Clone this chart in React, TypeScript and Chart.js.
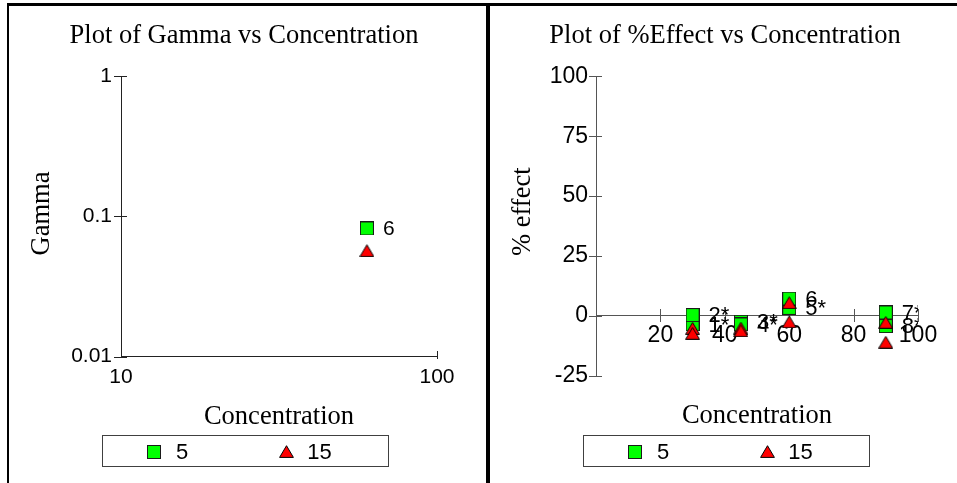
import React, { useEffect, useRef } from 'react';
import { Chart, registerables } from 'chart.js';

Chart.register(...registerables);

// ---------- data ----------
const SERIES_LABELS = ['5', '15'];

// Plot of Gamma vs Concentration
const GAMMA_CONC_5 = [60];
const GAMMA_VAL_5 = [0.082];
const GAMMA_ID_5 = ['6'];
const GAMMA_CONC_15 = [60];
const GAMMA_VAL_15 = [0.057];
const GAMMA_X_TICKS = [10, 100];
const GAMMA_Y_TICKS = [0.01, 0.1, 1];

// Plot of %Effect vs Concentration
const EFFECT_CONC_5 = [30, 30, 45, 45, 60, 60, 90, 90];
const EFFECT_VAL_5 = [-3.6, 0.3, -2.5, -3.6, 3.3, 7.2, 1.4, -4.3];
const EFFECT_ID_5 = ['1*', '2*', '3*', '4*', '5*', '6', '7*', '8*'];
const EFFECT_CONC_15 = [30, 30, 45, 45, 60, 60, 90, 90];
const EFFECT_VAL_15 = [-5.2, -7.3, -5.1, -6.2, 5.5, -2.5, -2.7, -11];
const EFFECT_X_TICKS = [20, 40, 60, 80, 100];
const EFFECT_Y_TICKS = [-25, 0, 25, 50, 75, 100];

// ---------- styling ----------
const SERIF = '"Liberation Serif", "Times New Roman", serif';
const SANS = '"Liberation Sans", Arial, sans-serif';
const TITLE_SIZE = 26.5;

function makeSquare(): HTMLCanvasElement {
  const c = document.createElement('canvas');
  c.width = 14; c.height = 14;
  const g = c.getContext('2d')!;
  g.fillStyle = '#00ff00';
  g.fillRect(0, 0, 14, 14);
  g.strokeStyle = '#1a1a1a';
  g.lineWidth = 1;
  g.strokeRect(0.5, 0.5, 13, 13);
  return c;
}

function makeTriangle(): HTMLCanvasElement {
  const c = document.createElement('canvas');
  c.width = 15; c.height = 13;
  const g = c.getContext('2d')!;
  g.beginPath();
  g.moveTo(7.5, 0.7);
  g.lineTo(14.4, 12.4);
  g.lineTo(0.6, 12.4);
  g.closePath();
  g.fillStyle = '#ff0000';
  g.fill();
  g.strokeStyle = '#000';
  g.lineWidth = 1;
  g.stroke();
  return c;
}

const toPoints = (xs: number[], ys: number[]) => xs.map((x, i) => ({ x, y: ys[i] }));

// crossing tick marks on both axes
const crossTickPlugin = {
  id: 'crossTicks',
  beforeDatasetsDraw(chart: any, _a: any, opts: any) {
    const { ctx, chartArea: ca } = chart;
    const xs = chart.scales.x;
    const ys = chart.scales.y;
    ctx.save();
    ctx.strokeStyle = opts.color;
    ctx.lineWidth = 1;
    const xAxisY = typeof xs.options.position === 'object' ? ys.getPixelForValue(0) : ca.bottom;
    const yAxisX = ca.left;
    const line = (x1: number, y1: number, x2: number, y2: number) => {
      ctx.beginPath(); ctx.moveTo(x1, y1); ctx.lineTo(x2, y2); ctx.stroke();
    };
    xs.ticks.forEach((t: any) => {
      const px = xs.getPixelForValue(t.value);
      if (Math.abs(px - ca.left) < 1) return;
      const X = Math.round(px) + 0.5;
      line(X, Math.round(xAxisY) - opts.xUp, X, Math.round(xAxisY) + opts.xDown);
    });
    ys.ticks.forEach((t: any) => {
      const py = ys.getPixelForValue(t.value);
      const Y = Math.round(py) + 0.5;
      line(Math.round(yAxisX) - opts.yOut, Y, Math.round(yAxisX) + opts.yIn, Y);
    });
    ctx.restore();
  },
};

// rotated y-axis title placed at a fixed height in the panel
const yTitlePlugin = {
  id: 'yTitle',
  afterDraw(chart: any, _a: any, opts: any) {
    const { ctx } = chart;
    ctx.save();
    ctx.translate(opts.x, opts.y);
    ctx.rotate(-Math.PI / 2);
    ctx.font = `${TITLE_SIZE}px ${SERIF}`;
    ctx.fillStyle = '#000';
    ctx.textAlign = 'center';
    ctx.textBaseline = 'middle';
    ctx.fillText(opts.text, 0, 0);
    ctx.restore();
  },
};

// sample id labels next to points, clipped to plot area
const pointLabelPlugin = {
  id: 'idLabels',
  afterDatasetsDraw(chart: any, _a: any, opts: any) {
    const { ctx, chartArea: ca } = chart;
    ctx.save();
    ctx.beginPath();
    ctx.rect(ca.left, ca.top, ca.right - ca.left, ca.bottom - ca.top);
    ctx.clip();
    ctx.font = `${opts.size}px ${SANS}`;
    ctx.fillStyle = '#000';
    ctx.textAlign = 'left';
    ctx.textBaseline = 'middle';
    chart.data.datasets.forEach((ds: any, di: number) => {
      if (!ds.idLabels) return;
      const meta = chart.getDatasetMeta(di);
      meta.data.forEach((pt: any, i: number) => {
        const txt = ds.idLabels[i];
        if (!txt) return;
        ctx.fillText(txt, pt.x + 16, pt.y + 1);
      });
    });
    ctx.restore();
  },
};

// boxed legend below the chart
const boxLegendPlugin = {
  id: 'boxLegend',
  afterDraw(chart: any, _a: any, opts: any) {
    const { ctx } = chart;
    const { x, y, w, h, symX, txtX } = opts;
    ctx.save();
    ctx.strokeStyle = '#404040';
    ctx.lineWidth = 1;
    ctx.strokeRect(Math.round(x) + 0.5, Math.round(y) + 0.5, w, h);
    ctx.font = `22px ${SANS}`;
    ctx.fillStyle = '#000';
    ctx.textAlign = 'left';
    ctx.textBaseline = 'middle';
    const cy = y + h / 2 + 1;
    chart.data.datasets.forEach((ds: any, i: number) => {
      const img = ds.pointStyle as HTMLCanvasElement;
      ctx.drawImage(img, Math.round(x + symX[i] - img.width / 2), Math.round(cy - img.height / 2));
      ctx.fillText(ds.label, x + txtX[i], cy + 1);
    });
    ctx.restore();
  },
};

const titleFont = { family: SERIF, size: TITLE_SIZE, weight: 'normal' as const };

function baseDatasets(sq: HTMLCanvasElement, tri: HTMLCanvasElement, d5: any[], d15: any[], ids: string[]) {
  return [
    {
      label: SERIES_LABELS[0],
      data: d5,
      idLabels: ids,
      pointStyle: sq,
      pointRadius: 7,
      order: 1,
      xAxisID: 'x',
      yAxisID: 'y',
    },
    {
      label: SERIES_LABELS[1],
      data: d15,
      pointStyle: tri,
      pointRadius: 7,
      order: 0,
      xAxisID: 'x',
      yAxisID: 'y',
    },
  ];
}

const legendOpts = { x: 92.5, y: 429, w: 286, h: 31, symX: [52.8, 184.6], txtX: [74.5, 205.8] };

function leftConfig(sq: HTMLCanvasElement, tri: HTMLCanvasElement): any {
  const tickFont = { family: SANS, size: 21 };
  return {
    type: 'scatter',
    data: {
      datasets: baseDatasets(sq, tri, toPoints(GAMMA_CONC_5, GAMMA_VAL_5), toPoints(GAMMA_CONC_15, GAMMA_VAL_15), GAMMA_ID_5),
    },
    options: {
      responsive: false,
      animation: false,
      devicePixelRatio: 1,
      layout: { padding: { left: 5, right: 12, top: 0, bottom: 40 } },
      plugins: {
        legend: { display: false },
        tooltip: { enabled: false },
        title: {
          display: true,
          text: 'Plot of Gamma vs Concentration',
          font: titleFont,
          color: '#000',
          padding: { top: 14.2, bottom: 24.0 },
        },
        crossTicks: { color: '#222', xUp: 6, xDown: 2, yOut: 7, yIn: 6 },
        yTitle: { text: 'Gamma', x: 33, y: 207.5 },
        idLabels: { size: 21 },
        boxLegend: legendOpts,
      },
      scales: {
        x: {
          type: 'logarithmic',
          position: 'bottom',
          min: 10,
          max: 100,
          afterBuildTicks: (s: any) => { s.ticks = GAMMA_X_TICKS.map((v) => ({ value: v })); },
          ticks: { callback: (v: any) => String(v), font: tickFont, color: '#000', padding: 8, maxRotation: 0, autoSkip: false },
          grid: { display: false, drawTicks: false },
          border: { display: true, color: '#222', width: 1 },
          title: { display: true, text: 'Concentration', font: titleFont, color: '#000', padding: { top: 0, bottom: 10 } },
          afterFit: (s: any) => { s.height = 86.3; },
        },
        y: {
          type: 'logarithmic',
          position: 'left',
          min: 0.01,
          max: 1,
          afterBuildTicks: (s: any) => { s.ticks = GAMMA_Y_TICKS.map((v) => ({ value: v })); },
          ticks: { callback: (v: any) => String(v), font: tickFont, color: '#000', padding: 9, autoSkip: false },
          grid: { display: false, drawTicks: false },
          border: { display: true, color: '#222', width: 1 },
          afterFit: (s: any) => { s.width = 107; },
        },
        yR: {
          type: 'linear',
          position: 'right',
          display: true,
          ticks: { display: false },
          grid: { display: false, drawTicks: false },
          border: { display: false },
          afterFit: (s: any) => { s.width = 37; },
        },
      },
    },
    plugins: [crossTickPlugin, pointLabelPlugin, yTitlePlugin, boxLegendPlugin],
  };
}

function rightConfig(sq: HTMLCanvasElement, tri: HTMLCanvasElement): any {
  const tickFont = { family: SANS, size: 23 };
  return {
    type: 'scatter',
    data: {
      datasets: baseDatasets(sq, tri, toPoints(EFFECT_CONC_5, EFFECT_VAL_5), toPoints(EFFECT_CONC_15, EFFECT_VAL_15), EFFECT_ID_5),
    },
    options: {
      responsive: false,
      animation: false,
      devicePixelRatio: 1,
      layout: { padding: { left: 6, right: 3, top: 0, bottom: 40 } },
      plugins: {
        legend: { display: false },
        tooltip: { enabled: false },
        title: {
          display: true,
          text: 'Plot of %Effect vs Concentration',
          font: titleFont,
          color: '#000',
          padding: { top: 14.2, bottom: 24.3 },
        },
        crossTicks: { color: '#555', xUp: 7, xDown: 6, yOut: 7, yIn: 6 },
        yTitle: { text: '% effect', x: 33.3, y: 205.7 },
        idLabels: { size: 22 },
        boxLegend: legendOpts,
      },
      scales: {
        x: {
          type: 'linear',
          position: { y: 0 },
          min: 0,
          max: 100,
          afterBuildTicks: (s: any) => { s.ticks = EFFECT_X_TICKS.map((v) => ({ value: v })); },
          ticks: { font: tickFont, color: '#000', padding: 6, maxRotation: 0, autoSkip: false },
          grid: { display: false, drawTicks: false },
          border: { display: true, color: '#555', width: 1 },
        },
        y: {
          type: 'linear',
          position: 'left',
          min: -25,
          max: 100,
          afterBuildTicks: (s: any) => { s.ticks = EFFECT_Y_TICKS.map((v) => ({ value: v })); },
          ticks: { font: tickFont, color: '#000', padding: 8, autoSkip: false },
          grid: { display: false, drawTicks: false },
          border: { display: true, color: '#555', width: 1 },
          afterFit: (s: any) => { s.width = 100; },
        },
        x2: {
          type: 'linear',
          position: 'bottom',
          display: true,
          ticks: { display: false },
          grid: { display: false, drawTicks: false },
          border: { display: false },
          title: { display: true, text: 'Concentration', font: titleFont, color: '#000', padding: { top: 0, bottom: 10.7 } },
          afterFit: (s: any) => { s.height = 67.3; },
        },
        yR: {
          type: 'linear',
          position: 'right',
          display: true,
          ticks: { display: false },
          grid: { display: false, drawTicks: false },
          border: { display: false },
          afterFit: (s: any) => { s.width = 36; },
        },
      },
    },
    plugins: [crossTickPlugin, pointLabelPlugin, yTitlePlugin, boxLegendPlugin],
  };
}

export default function App() {
  const leftRef = useRef<HTMLCanvasElement>(null);
  const rightRef = useRef<HTMLCanvasElement>(null);

  useEffect(() => {
    const sq = makeSquare();
    const tri = makeTriangle();
    const c1 = new Chart(leftRef.current!, leftConfig(sq, tri));
    const c2 = new Chart(rightRef.current!, rightConfig(sq, tri));
    return () => {
      c1.destroy();
      c2.destroy();
    };
  }, []);

  return (
    <div style={{ position: 'absolute', left: 0, top: 0, width: 957, height: 483, background: '#fff', overflow: 'hidden' }}>
      <div style={{ position: 'absolute', left: 7, top: 3, width: 950, height: 3, background: '#000' }} />
      <div style={{ position: 'absolute', left: 7, top: 3, width: 2, height: 480, background: '#000' }} />
      <div style={{ position: 'absolute', left: 486, top: 3, width: 4, height: 480, background: '#000' }} />
      <canvas ref={leftRef} width={477} height={477} style={{ position: 'absolute', left: 9, top: 6, width: 477, height: 477 }} />
      <canvas ref={rightRef} width={467} height={477} style={{ position: 'absolute', left: 490, top: 6, width: 467, height: 477 }} />
    </div>
  );
}
